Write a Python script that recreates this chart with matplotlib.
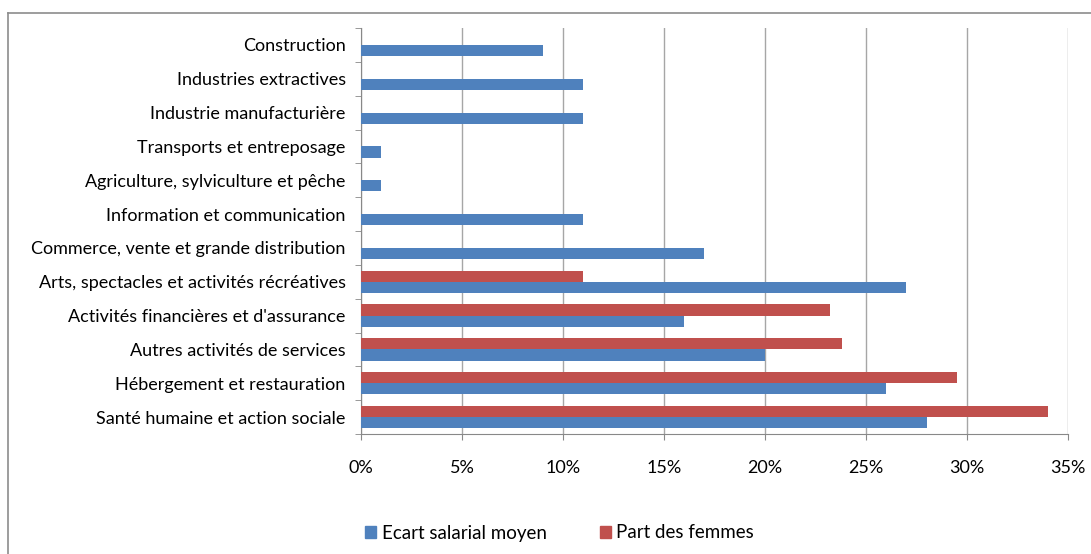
import matplotlib.pyplot as plt
from matplotlib.lines import Line2D
from matplotlib.patches import Patch
import numpy as np

plt.rcParams['font.family'] = ['Lato', 'DejaVu Sans']

# Données (en %)
secteurs = ['Construction', 'Industries extractives', 'Industrie manufacturière',
            'Transports et entreposage', 'Agriculture, sylviculture et pêche',
            'Information et communication', 'Commerce, vente et grande distribution',
            'Arts, spectacles et activités récréatives', "Activités financières et d'assurance",
            'Autres activités de services', 'Hébergement et restauration',
            'Santé humaine et action sociale']
ecart_salarial = [9, 11, 11, 1, 1, 11, 17, 27, 16, 20, 26, 28]
part_femmes = [0, 0, 0, 0, 0, 0, 0, 11, 23.2, 23.8, 29.5, 34]

bleu = '#4f81bd'
rouge = '#c0504d'
gris = '#a6a6a6'

W, H = 1091, 554
fig = plt.figure(figsize=(W / 100, H / 100), dpi=100)
ax = fig.add_axes([361 / W, 1 - 434 / H, (1068 - 361) / W, (434 - 28) / H])

y = np.arange(len(secteurs))
h = 0.33
ax.barh(y - h / 2, np.array(part_femmes) / 100, height=h, color=rouge, label='Part des femmes', zorder=3)
ax.barh(y + h / 2, np.array(ecart_salarial) / 100, height=h, color=bleu, label='Ecart salarial moyen', zorder=3)

ax.set_xlim(0, 0.35)
ax.set_ylim(len(secteurs) - 0.5, -0.5)
ax.set_xticks(np.arange(0, 0.36, 0.05))
ax.set_xticklabels(['%d%%' % v for v in range(0, 36, 5)])
ax.set_yticks(y)
ax.set_yticklabels(secteurs)
ax.set_yticks(np.arange(-0.5, len(secteurs), 1), minor=True)
ax.tick_params(axis='y', which='major', length=0, pad=11, labelsize=13, colors='black')
ax.tick_params(axis='y', which='minor', length=4, color='#888888', direction='out')
ax.tick_params(axis='x', length=4, color='#888888', pad=15, labelsize=13)

ax.grid(axis='x', color=gris, lw=1, zorder=0)
for s in ['top', 'right']:
    ax.spines[s].set_visible(False)
for s in ['left', 'bottom']:
    ax.spines[s].set_color('#888888')

# Légende
handles = [Patch(color=bleu, label='Ecart salarial moyen'),
           Patch(color=rouge, label='Part des femmes')]
fig.legend(handles=handles, loc='center', bbox_to_anchor=(0.513, 1 - 533 / H),
           ncol=2, frameon=False, fontsize=13.5, handlelength=0.6, handleheight=0.6,
           handletextpad=0.3, columnspacing=2.8)

# Bordure du graphique
fig.add_artist(Line2D([8 / W, 1], [1 - 13 / H, 1 - 13 / H], color='#8c8c8c', lw=1.2))
fig.add_artist(Line2D([8 / W, 8 / W], [0, 1 - 13 / H], color='#8c8c8c', lw=1.2))

fig.savefig('out.png', dpi=100)
